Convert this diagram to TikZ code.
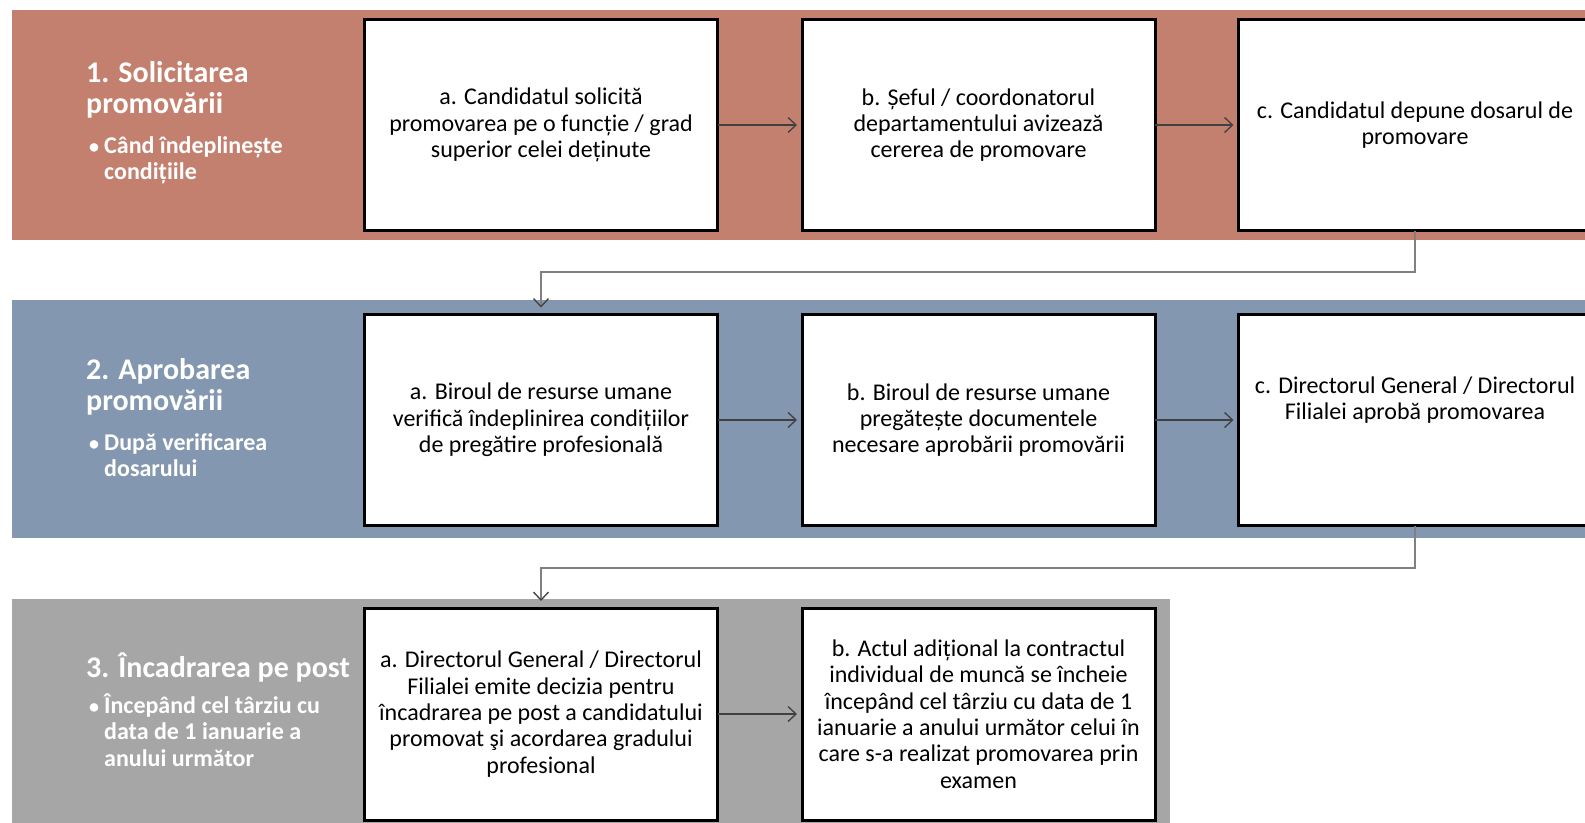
\documentclass[tikz,border=0pt]{standalone}
\usepackage{fontspec}
\setmainfont{Carlito}
\usetikzlibrary{arrows.meta}
\definecolor{bandA}{HTML}{C4806F}
\definecolor{bandB}{HTML}{8497B0}
\definecolor{bandC}{HTML}{A6A6A6}
\definecolor{arrowcol}{HTML}{404040}
\definecolor{linkcol}{HTML}{808080}
\tikzset{
  stepbox/.style={draw=black,line width=3pt,fill=white,minimum width=353pt,
    minimum height=211pt,inner sep=0pt,outer sep=0pt,align=center,
    font=\fontsize{24}{26.3}\selectfont},
  boxtext/.style={inner sep=0pt,align=center,font=\fontsize{24}{26.3}\selectfont},
  title/.style={anchor=base west,inner sep=0pt,align=left,text=white,
    font=\fontsize{30}{31.3}\selectfont\bfseries},
  bullettext/.style={anchor=base west,inner sep=0pt,align=left,text=white,
    font=\fontsize{24}{26.5}\selectfont\bfseries},
  bulletmark/.style={anchor=base west,inner sep=0pt,text=white,
    font=\fontsize{20}{24}\selectfont\bfseries},
  flow/.style={draw=arrowcol,line width=1.3pt,-{Straight Barb[length=8pt,width=15pt]},shorten >=5pt},
  link/.style={draw=linkcol,line width=1.3pt,-{Straight Barb[length=8pt,width=15pt,color=arrowcol]}}
}
\begin{document}
\begin{tikzpicture}[x=1pt,y=-1pt]
\clip (0,0) rectangle (1585,822);
\fill[white] (0,0) rectangle (1585,822);
% bands
\fill[bandA] (12,10) rectangle (1600,240);
\fill[bandB] (12,300) rectangle (1600,538);
\fill[bandC] (12,599) rectangle (1170,830);
% left texts (base = baseline of last line)
\node[title] (t1) at (86,113.3) {1. Solicitarea\\promovării};
\node[bulletmark] (u1) at (89,153) {•};
\node[bullettext] (s1) at (104,179.5) {Când îndeplinește\\condițiile};
\node[title] (t2) at (86,410.3) {2. Aprobarea\\promovării};
\node[bulletmark] (u2) at (89,450) {•};
\node[bullettext] (s2) at (104,476.5) {După verificarea\\dosarului};
\node[title] (t3) at (86,677) {3. Încadrarea pe post};
\node[bulletmark] (u3) at (89,713) {•};
\node[bullettext] (s3) at (104,766) {Începând cel târziu cu\\data de 1 ianuarie a\\anului următor};
% row 1
\node[stepbox] (a1) at (541,125) {a. Candidatul solicită\\promovarea pe o funcție / grad\\superior celei deținute};
\node[stepbox] (b1) at (978.5,125) {b. Șeful / coordonatorul\\departamentului avizează\\cererea de promovare};
\node[stepbox] (c1) at (1415,125) {c. Candidatul depune dosarul de\\promovare};
% row 2
\node[stepbox] (a2) at (541,420) {a. Biroul de resurse umane\\verifică îndeplinirea condițiilor\\de pregătire profesională};
\node[stepbox] (b2) at (978.5,420) {b. Biroul de resurse umane\\pregătește documentele\\necesare aprobării promovării};
\node[stepbox] (c2) at (1415,420) {};
\node[boxtext] (c2t) at ([yshift=20pt]c2.center) {c. Directorul General / Directorul\\Filialei aprobă promovarea};
% row 3
\node[stepbox,minimum height=212pt] (a3) at (541,714) {a. Directorul General / Directorul\\Filialei emite decizia pentru\\încadrarea pe post a candidatului\\promovat şi acordarea gradului\\profesional};
\node[stepbox,minimum height=212pt] (b3) at (978.5,714) {b. Actul adițional la contractul\\individual de muncă se încheie\\începând cel târziu cu data de 1\\ianuarie a anului următor celui în\\care s-a realizat promovarea prin\\examen};
% arrows
\draw[flow] (a1) -- (b1);
\draw[flow] (b1) -- (c1);
\draw[flow] (a2) -- (b2);
\draw[flow] (b2) -- (c2);
\draw[flow] (a3) -- (b3);
\draw[link,shorten >=7pt] (c1.south) -- ++(0,41.5) -| (a2.north);
\draw[link,shorten >=7pt] (c2.south) -- ++(0,42.5) -| (a3.north);
\end{tikzpicture}
\end{document}
